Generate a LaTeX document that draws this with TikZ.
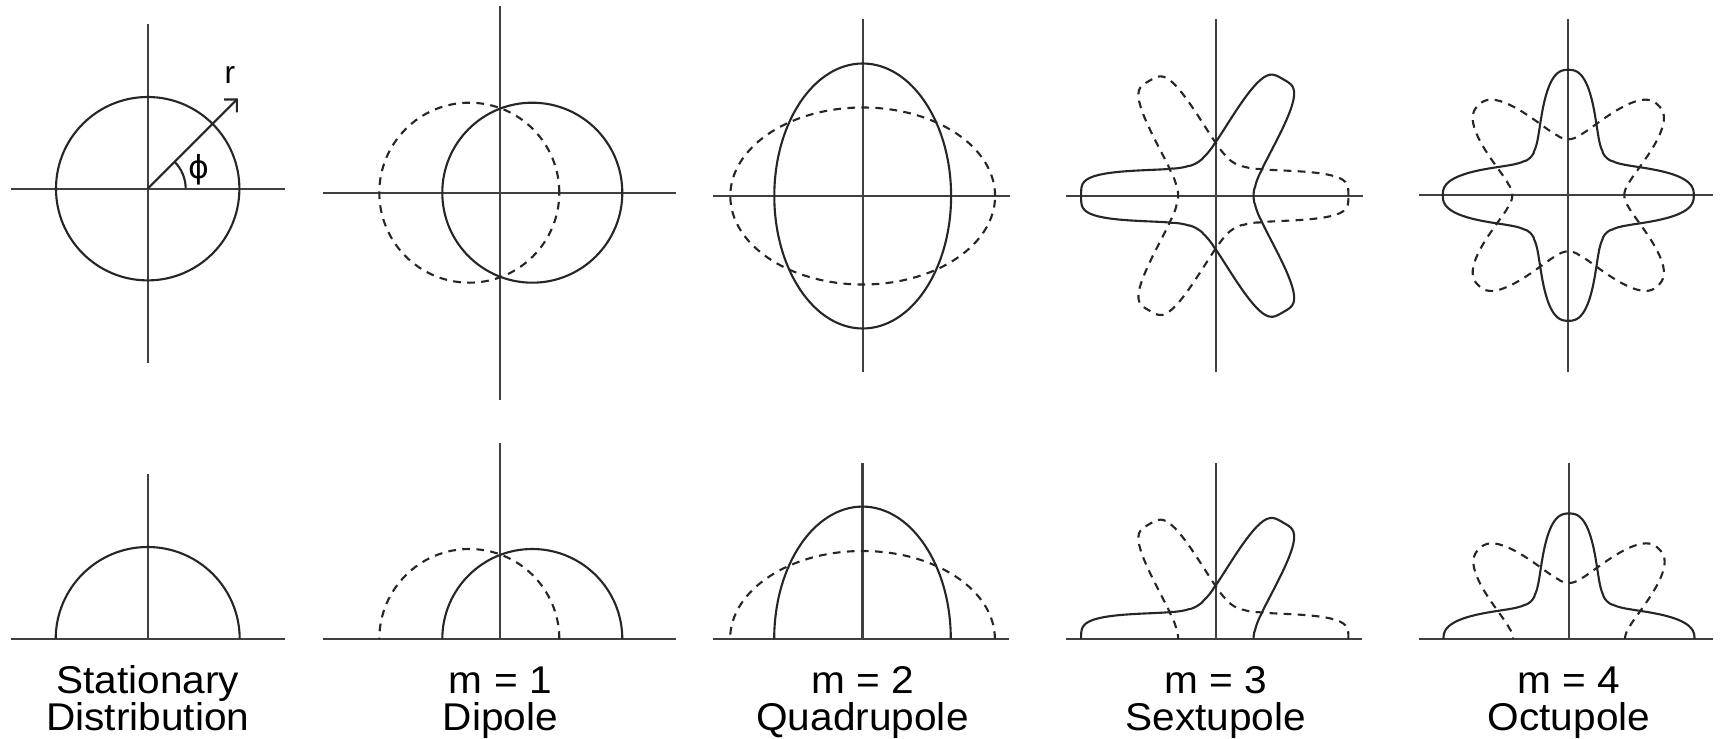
\documentclass[tikz,border=0pt]{standalone}
\usepackage{fontspec}
\setmainfont{Liberation Sans}
\newfontfamily\symfont{DejaVu Sans}
\usetikzlibrary{arrows.meta}
\begin{document}
\begin{tikzpicture}[x=0.01cm,y=0.01cm,
  ax/.style={line width=0.65pt, draw=black!75},
  cv/.style={line width=0.6pt, draw=black!85},
  dcv/.style={cv, dash pattern=on 2.2pt off 1.8pt},
  lbl/.style={font=\fontsize{11pt}{13pt}\selectfont, anchor=base, inner sep=0pt},
  sym/.style={font=\fontsize{9pt}{10pt}\selectfont, inner sep=0pt},
  declare function={fing(\xa)=((abs(sin(\xa))+0.0001)/\fh)^\fn+((max(cos(\xa),0)+0.0001)/\fL)^\fn+((max(-cos(\xa),0)+0.0001)/\fb)^\fn;}]
% style, offset, h, L, b, n, p
\newcommand\starthree[7]{\def\fo{#2}\def\fh{#3}\def\fL{#4}\def\fb{#5}\def\fn{#6}\def\fp{#7}%
  \draw[#1] plot[domain=0:360, samples=361, variable=\t]
   (\t:{100*(fing(\t-\fo)^(-\fp/\fn)+fing(\t-\fo-120)^(-\fp/\fn)+fing(\t-\fo-240)^(-\fp/\fn))^(1/\fp)}) -- cycle;}
\newcommand\starfour[7]{\def\fo{#2}\def\fh{#3}\def\fL{#4}\def\fb{#5}\def\fn{#6}\def\fp{#7}%
  \draw[#1] plot[domain=0:360, samples=361, variable=\t]
   (\t:{100*(fing(\t-\fo)^(-\fp/\fn)+fing(\t-\fo-90)^(-\fp/\fn)+fing(\t-\fo-180)^(-\fp/\fn)+fing(\t-\fo-270)^(-\fp/\fn))^(1/\fp)}) -- cycle;}
\newcommand\wide[1]{\scalebox{1.05}[1]{#1}}
\useasboundingbox (0,0) rectangle (1723,739);

% ---------- centres ----------
\coordinate (c1) at (147.7,550.3);
\coordinate (c2) at (500.3,546.3);
\coordinate (c3) at (862.7,543);
\coordinate (c4) at (1215.7,543.3);
\coordinate (c5) at (1568.3,543.7);
\coordinate (b1) at (147.7,100);
\coordinate (b2) at (500.3,100);
\coordinate (b3) at (862.5,100);
\coordinate (b4) at (1215.7,100);
\coordinate (b5) at (1569,100);

% ---------- top row ----------
% stationary
\draw[ax] ([xshift=-136.7*0.01cm]c1) -- ([xshift=137.3*0.01cm]c1);
\draw[ax] ([yshift=164.7*0.01cm]c1) -- ([yshift=-174.3*0.01cm]c1);
\draw[cv] (c1) circle[radius=91.7];
\coordinate (rt) at ([shift={(45:127.7)}]c1);
\draw[cv, -{Straight Barb[length=2.6pt,width=5.2pt]}] (c1) -- (rt);
\draw[cv] ([xshift=38*0.01cm]c1) arc[start angle=0, end angle=45, radius=38];
\node[sym] (rl) at (230,664) {r};
\node[sym] (pl) at (199,569) {\symfont ϕ};

% dipole
\draw[ax] ([xshift=-177.6*0.01cm]c2) -- ([xshift=175.4*0.01cm]c2);
\draw[ax] ([yshift=186.7*0.01cm]c2) -- ([yshift=-207.3*0.01cm]c2);
\draw[dcv] ([xshift=-31*0.01cm]c2) circle[radius=90];
\draw[cv] ([xshift=32*0.01cm]c2) circle[radius=90];

% quadrupole
\draw[ax] ([xshift=-149.4*0.01cm]c3) -- ([xshift=147.3*0.01cm]c3);
\draw[ax] ([yshift=176.7*0.01cm]c3) -- ([yshift=-175.7*0.01cm]c3);
\draw[dcv] (c3) ellipse[x radius=132.4, y radius=88.5];
\draw[cv] (c3) ellipse[x radius=88.4, y radius=132.5];

% sextupole
\draw[ax] ([xshift=-149.7*0.01cm]c4) -- ([xshift=147*0.01cm]c4);
\draw[ax] ([yshift=176.4*0.01cm]c4) -- ([yshift=-176*0.01cm]c4);
\begin{scope}[shift={(c4)}]
\starthree{dcv}{0}{0.25}{1.32}{0.17}{4}{3}
\starthree{cv}{60}{0.255}{1.34}{0.15}{4}{3}
\end{scope}

% octupole
\draw[ax] ([xshift=-149*0.01cm]c5) -- ([xshift=145*0.01cm]c5);
\draw[ax] ([yshift=176*0.01cm]c5) -- ([yshift=-176.4*0.01cm]c5);
\begin{scope}[shift={(c5)}]
\starfour{dcv}{45}{0.33}{1.27}{0.2}{2.5}{4}
\starfour{cv}{0}{0.30}{1.25}{0.2}{2.6}{3.5}
\end{scope}

% ---------- bottom row ----------
\draw[ax] (11,100) -- (285,100);
\draw[ax] (b1) -- ++(0,165);
\begin{scope}[shift={(b1)}]
\clip (-150,0) rectangle (150,200);
\draw[cv] (0,0) circle[radius=92];
\end{scope}

\draw[ax] (323,100) -- (676,100);
\draw[ax] (b2) -- ++(0,196.3);
\begin{scope}[shift={(b2)}]
\clip (-180,0) rectangle (180,200);
\draw[dcv] (-31,0) circle[radius=90];
\draw[cv] (32,0) circle[radius=90];
\end{scope}

\draw[ax] (713.3,100) -- (1009.3,100);
\draw[ax] (b3) -- ++(0,176);
\begin{scope}[shift={(b3)}]
\clip (-150,0) rectangle (150,200);
\draw[dcv] (0,0) ellipse[x radius=132.4, y radius=88];
\draw[cv] (0,0) ellipse[x radius=88.3, y radius=132.4];
\end{scope}

\draw[ax] (1066,100) -- (1361.7,100);
\draw[ax] (b4) -- ++(0,176);
\begin{scope}[shift={(b4)}]
\clip (-150,0) rectangle (150,200);
\starthree{dcv}{0}{0.25}{1.32}{0.17}{4}{3}
\starthree{cv}{60}{0.255}{1.34}{0.15}{4}{3}
\end{scope}

\draw[ax] (1419.3,100) -- (1713.3,100);
\draw[ax] (b5) -- ++(0,176);
\begin{scope}[shift={(b5)}]
\clip (-150,0) rectangle (150,200);
\starfour{dcv}{45}{0.33}{1.27}{0.2}{2.5}{4}
\starfour{cv}{0}{0.30}{1.25}{0.2}{2.6}{3.5}
\end{scope}

% ---------- labels ----------
\node[lbl] (l1a) at (147.7,45) {\wide{Stationary}};
\node[lbl] (l1b) at (147.7,8.5) {\wide{Distribution}};
\node[lbl] (l2a) at (500.3,45) {\wide{m = 1}};
\node[lbl] (l2b) at (500.3,8.5) {\wide{Dipole}};
\node[lbl] (l3a) at (862.5,45) {\wide{m = 2}};
\node[lbl] (l3b) at (862.5,8.5) {\wide{Quadrupole}};
\node[lbl] (l4a) at (1215.7,45) {\wide{m = 3}};
\node[lbl] (l4b) at (1215.7,8.5) {\wide{Sextupole}};
\node[lbl] (l5a) at (1569,45) {\wide{m = 4}};
\node[lbl] (l5b) at (1569,8.5) {\wide{Octupole}};
\end{tikzpicture}
\end{document}
